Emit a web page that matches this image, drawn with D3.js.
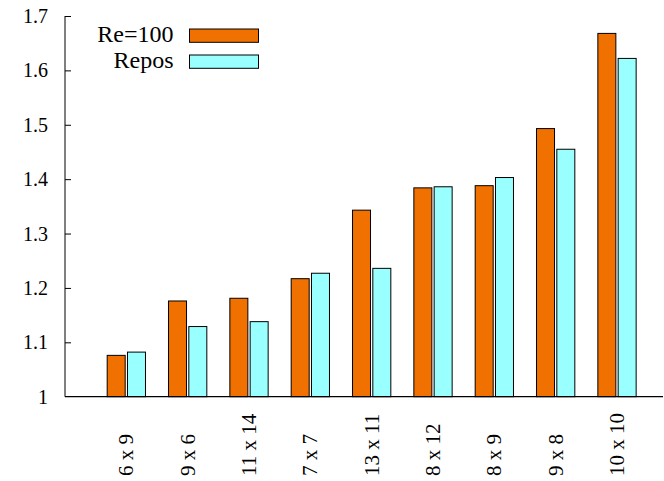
<!DOCTYPE html>
<html>
<head>
<meta charset="utf-8">
<script src="https://cdn.jsdelivr.net/npm/d3@7/dist/d3.min.js"></script>
</head>
<body style="margin:0;background:#fff">
<svg id="chart" width="664" height="481" style="display:block"></svg>
<script>
const categories = ["6 x 9", "9 x 6", "11 x 14", "7 x 7", "13 x 11", "8 x 12", "8 x 9", "9 x 8", "10 x 10"];
const re100 = [1.076, 1.176, 1.181, 1.217, 1.343, 1.384, 1.388, 1.493, 1.668];
const repos = [1.082, 1.129, 1.138, 1.227, 1.236, 1.386, 1.403, 1.455, 1.622];
const seriesNames = ["Re=100", "Repos"];
const seriesColors = ["#f07000", "#99ffff"];
const yTicks = [1, 1.1, 1.2, 1.3, 1.4, 1.5, 1.6, 1.7];

const FONT = '"Liberation Serif"';
const svg = d3.select("#chart");
const mLeft = 65, mRight = 663, mTop = 16, mBottom = 396.7;

const x = d3.scaleLinear().domain([-1, 8.75]).range([mLeft, mRight]);
const y = d3.scaleLinear().domain([1, 1.7]).range([mBottom, mTop]);

const barW = 18, gap = 2.3;

// bars
const series = [re100, repos];
series.forEach((vals, s) => {
  svg.append("g").selectAll("rect")
    .data(vals)
    .join("rect")
    .attr("x", (d, i) => s === 0 ? x(i) - barW - gap / 2 : x(i) + gap / 2)
    .attr("y", d => y(d))
    .attr("width", barW)
    .attr("height", d => y(1) - y(d))
    .attr("fill", seriesColors[s])
    .attr("stroke", "#000")
    .attr("stroke-width", 1);
});

// y axis
const yAxis = d3.axisLeft(y).tickValues(yTicks).tickSize(-6).tickPadding(16)
  .tickFormat(d => d3.format("")(d));
const gy = svg.append("g").attr("transform", `translate(${mLeft},0)`).call(yAxis);
gy.attr("font-family", "Liberation Serif").attr("font-size", 20);
gy.select(".domain").attr("stroke", "#000").attr("d", `M0,${mTop}V${mBottom}`);
gy.selectAll(".tick line").attr("stroke", "#000");
gy.selectAll(".tick text")
  .style("font-family", FONT).style("font-size", "20px")
  .attr("fill", "#000").attr("x", -17).attr("dy", "0.33em");
gy.selectAll(".tick").filter(d => d === 1).select("line").remove();

// x axis baseline
svg.append("line").attr("x1", mLeft).attr("x2", mRight).attr("y1", mBottom).attr("y2", mBottom)
  .attr("stroke", "#000").attr("stroke-width", 1.2);

// x labels (rotated)
svg.append("g").selectAll("text")
  .data(categories)
  .join("text")
  .attr("transform", (d, i) => `translate(${x(i) + 7},476) rotate(-90)`)
  .attr("text-anchor", "start")
  .style("font-family", FONT).style("font-size", "21px")
  .attr("fill", "#000")
  .text(d => d);

// legend
const legend = svg.append("g");
seriesNames.forEach((name, s) => {
  const base = 42.3 + s * 26;
  legend.append("text").attr("x", 173.5).attr("y", base)
    .attr("text-anchor", "end")
    .style("font-family", FONT).style("font-size", "24px")
    .attr("fill", "#000").text(name);
  legend.append("rect").attr("x", 189.5).attr("y", base - 13.3).attr("width", 69).attr("height", 13.3)
    .attr("fill", seriesColors[s]).attr("stroke", "#000").attr("stroke-width", 1);
});
</script>
</body>
</html>
